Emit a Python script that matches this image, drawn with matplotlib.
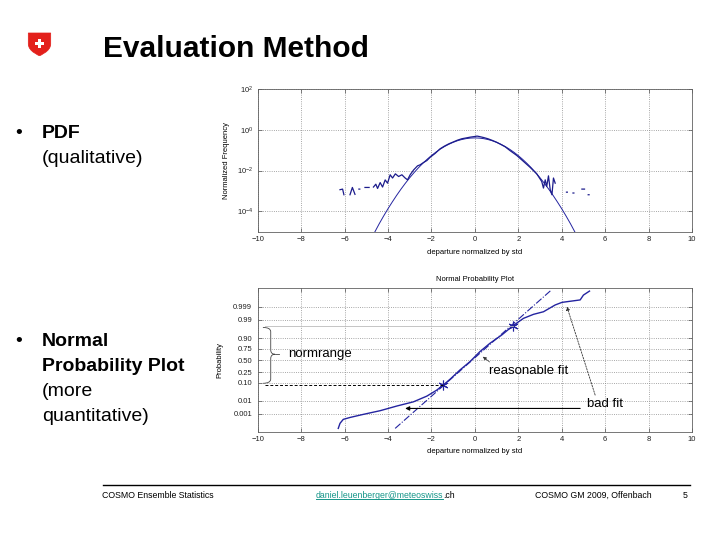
import numpy as np
import matplotlib
matplotlib.use('Agg')
import matplotlib.pyplot as plt
from matplotlib.path import Path
from matplotlib.patches import PathPatch
from matplotlib.lines import Line2D
from matplotlib.transforms import Affine2D
from matplotlib.ticker import NullLocator
from statistics import NormalDist

plt.rcParams['font.family'] = ['Liberation Sans', 'DejaVu Sans']
plt.rcParams['mathtext.fontset'] = 'custom'
plt.rcParams['mathtext.rm'] = 'Liberation Sans'
plt.rcParams['mathtext.it'] = 'Liberation Sans:italic'
plt.rcParams['mathtext.bf'] = 'Liberation Sans:bold'

nan = np.nan

# ---------------- data ----------------
x_ticks = [-10, -8, -6, -4, -2, 0, 2, 4, 6, 8, 10]

pdf_yticks = [1e-4, 1e-2, 1e0, 1e2]
pdf_yticklabels = [r'$10^{-4}$', r'$10^{-2}$', r'$10^{0}$', r'$10^{2}$']

# fitted Gaussian (PDF panel)
pdf_fit_x = [-4.8, -4.6, -4.4, -4.2, -4.0, -3.8, -3.6, -3.4, -3.2, -3.0, -2.8, -2.6,
             -2.4, -2.2, -2.0, -1.8, -1.6, -1.4, -1.2, -1.0, -0.8, -0.6, -0.4, -0.2,
             0.0, 0.2, 0.4, 0.6, 0.8, 1.0, 1.2, 1.4, 1.6, 1.8, 2.0, 2.2, 2.4, 2.6,
             2.8, 3.0, 3.2, 3.4, 3.6, 3.8, 4.0, 4.2, 4.4, 4.6, 4.8]
pdf_fit_y = [4.0e-6, 1.0e-5, 2.5e-5, 5.9e-5, 1.34e-4, 2.9e-4, 6.1e-4, 1.23e-3, 2.38e-3,
             4.43e-3, 7.9e-3, 1.36e-2, 2.24e-2, 3.55e-2, 5.40e-2, 7.90e-2, 0.111, 0.150,
             0.194, 0.242, 0.290, 0.333, 0.368, 0.391, 0.399, 0.391, 0.368, 0.333, 0.290,
             0.242, 0.194, 0.150, 0.111, 7.90e-2, 5.40e-2, 3.55e-2, 2.24e-2, 1.36e-2,
             7.9e-3, 4.43e-3, 2.38e-3, 1.23e-3, 6.1e-4, 2.9e-4, 1.34e-4, 5.9e-5, 2.5e-5,
             1.0e-5, 4.0e-6]

# empirical normalized frequency (gaps = empty bins)
emp_x = [-6.21, -6.09, -6.03, nan, -5.75, -5.64, -5.52, nan, -5.34, -5.30, nan,
         -5.06, -4.87, nan, -4.67, -4.56, -4.48, -4.36, -4.25, -4.13, -4.02, -3.90,
         -3.79, -3.66, -3.51, -3.36, -3.21, -3.10, -2.98, -2.82, -2.64, -2.52, -2.37,
         -2.21, -2.06, -1.83, -1.6, -1.4, -1.2, -1.0, -0.8, -0.6, -0.4, -0.2, 0.0, 0.1,
         0.2, 0.4, 0.6, 0.8, 1.0, 1.2, 1.4, 1.62, 1.93, 2.24, 2.54, 2.85, 3.08, 3.16,
         3.24, 3.31, 3.39, 3.47, 3.55, 3.62, 3.70, nan, 4.22, 4.26, nan, 4.52, 4.56,
         nan, 4.93, 5.05, nan, 5.22, 5.26]
emp_y = [1.15e-3, 1.23e-3, 6.5e-4, nan, 6.5e-4, 1.48e-3, 6.8e-4, nan, 1.23e-3, 1.23e-3, nan,
         1.48e-3, 1.48e-3, nan, 1.55e-3, 2.14e-3, 1.32e-3, 2.57e-3, 1.55e-3, 3.47e-3, 2.40e-3,
         6.2e-3, 4.3e-3, 6.9e-3, 5.1e-3, 6.2e-3, 4.3e-3, 3.5e-3, 6.2e-3, 1.07e-2, 1.70e-2,
         1.91e-2, 2.45e-2, 3.09e-2, 4.47e-2, 6.9e-2, 0.117, 0.158, 0.204, 0.251, 0.309, 0.363,
         0.398, 0.437, 0.468, 0.49, 0.468, 0.417, 0.363, 0.302, 0.245, 0.19, 0.145, 0.095,
         0.055, 0.028, 0.0145, 0.0069, 0.0029, 0.00138, 0.0035, 0.00166, 0.0055, 0.00115,
         0.00065, 0.0043, 0.0024, nan, 8.7e-4, 8.7e-4, nan, 7.9e-4, 7.9e-4, nan, 1.23e-3,
         1.23e-3, nan, 6.5e-4, 6.5e-4]

# normal probability plot
npp_yticks = [0.001, 0.01, 0.10, 0.25, 0.50, 0.75, 0.90, 0.99, 0.999]
npp_yticklabels = ['0.001', '0.01', '0.10', '0.25', '0.50', '0.75', '0.90', '0.99', '0.999']
npp_x = [-6.29, -6.21, -6.06, -5.75, -5.13, -4.36, -3.59, -2.83, -2.21, -1.75, -1.45,
         -1.10, -0.69, -0.23, 0.23, 0.69, 1.24, 1.75, 2.24, 2.70, 3.16, 3.70, 4.01, 4.85,
         5.00, 5.28]
npp_p = [4.43e-5, 1.42e-4, 3.37e-4, 5.01e-4, 9.36e-4, 1.87e-3, 4.27e-3, 8.42e-3, 0.0197,
         0.0436, 0.0778, 0.149, 0.288, 0.468, 0.691, 0.836, 0.928, 0.9767, 0.99224, 0.99598,
         0.99744, 0.99929, 0.99958, 0.99975, 0.999915, 0.999967]
npp_mark_x = [-1.45, 1.75]
npp_mark_p = [0.0778, 0.9767]
npp_fit_x = [-3.67, 3.52]
npp_fit_p = [4.43e-5, 0.9999744]

# ---------------- figure ----------------
W, H = 720, 540
fig = plt.figure(figsize=(7.2, 5.4), dpi=100)
fig.patch.set_facecolor('white')
PX = Affine2D().scale(1 / W, -1 / H).translate(0, 1) + fig.transFigure


def fig_axes(l, t, r, b):
    return fig.add_axes([l / W, 1 - b / H, (r - l) / W, (b - t) / H])


def style(ax):
    ax.set_xlim(-10, 10)
    ax.set_xticks(x_ticks)
    ax.grid(True, ls=':', lw=0.6, color='#8a8a8a')
    ax.tick_params(direction='in', length=3, width=0.5, top=True, right=True,
                   labelsize=5.5, pad=3, color='#505050', labelcolor='#202020')
    ax.tick_params(which='minor', length=0)
    for s in ax.spines.values():
        s.set_color('#606060')
        s.set_linewidth(0.6)


BLUE = '#2424a0'

# ---- PDF panel ----
ax1 = fig_axes(257.7, 89, 692, 231.7)
ax1.set_yscale('log')
ax1.set_ylim(1e-5, 1e2)
style(ax1)
ax1.set_yticks(pdf_yticks)
ax1.set_yticklabels(pdf_yticklabels)
ax1.yaxis.set_minor_locator(NullLocator())
ax1.plot(pdf_fit_x, pdf_fit_y, color=BLUE, lw=0.7)
ax1.plot(emp_x, emp_y, color='#1c1c8c', lw=0.9)
ax1.set_xlabel('departure normalized by std', fontsize=5.5, va='center')
ax1.xaxis.set_label_coords(0.5, -0.149)
ax1.set_ylabel('Normalized Frequency', fontsize=5.5, va='center')
ax1.yaxis.set_label_coords(-0.0707, 0.5)

# ---- Normal probability panel ----
_nd = NormalDist()


def probit(p):
    p = np.clip(np.asarray(p, dtype=float), 1e-12, 1 - 1e-12)
    return np.vectorize(_nd.inv_cdf, otypes=[float])(p)


def cdf(z):
    z = np.asarray(z, dtype=float)
    return np.vectorize(_nd.cdf, otypes=[float])(z)


ax2 = fig_axes(257.7, 288.3, 692, 431.7)
ax2.set_yscale('function', functions=(probit, cdf))
ax2.set_ylim(1.98e-5, 0.9999834)
style(ax2)
ax2.set_yticks(npp_yticks)
ax2.set_yticklabels(npp_yticklabels)
ax2.yaxis.set_minor_locator(NullLocator())
ax2.tick_params(axis='y', pad=4)

ax2.plot(npp_fit_x, npp_fit_p, color=BLUE, lw=0.8, ls='-.')
ax2.plot(npp_x, npp_p, color=BLUE, lw=1.0)
ax2.plot(npp_mark_x, npp_mark_p, ls='none', marker=(6, 2, 0), ms=7, mew=0.8, color=BLUE)

ax2.set_title('Normal Probability Plot', fontsize=5.5, pad=5)
ax2.set_xlabel('departure normalized by std', fontsize=5.5, va='center')
ax2.xaxis.set_label_coords(0.5, -0.135)
ax2.set_ylabel('Probability', fontsize=5.5, va='center')
ax2.yaxis.set_label_coords(-0.0868, 0.5)

# annotations
ax2.plot([-9.66, npp_mark_x[0]], [npp_mark_p[0], npp_mark_p[0]], color='black', lw=0.7,
         ls=(0, (3, 2)))
ax2.plot([-9.66, npp_mark_x[1]], [npp_mark_p[1], npp_mark_p[1]], color='#bbbbbb', lw=0.6)

bt, bb, bm = 0.727, 0.3375, 0.54
brace = Path([(0.012, bt), (0.030, bt), (0.030, bt - 0.03),
              (0.030, bm + 0.03), (0.030, bm), (0.040, bm),
              (0.030, bm), (0.030, bm - 0.03),
              (0.030, bb + 0.03), (0.030, bb), (0.012, bb)],
             [Path.MOVETO, Path.CURVE3, Path.CURVE3,
              Path.LINETO, Path.CURVE3, Path.CURVE3,
              Path.CURVE3, Path.CURVE3,
              Path.LINETO, Path.CURVE3, Path.CURVE3])
ax2.add_patch(PathPatch(brace, transform=ax2.transAxes, fill=False, lw=0.6,
                        edgecolor='#444444', clip_on=False))
ax2.plot([0.040, 0.048], [bm, bm], transform=ax2.transAxes, color='#444444', lw=0.6)
ax2.text(0.0705, bm, 'normrange', transform=ax2.transAxes, fontsize=9.5,
         ha='left', va='center')

ax2.annotate('', xy=(0.37, 0.583), xytext=(0.68, 0.462),
             arrowprops=dict(arrowstyle='-|>', lw=0.5, color='#333333', mutation_scale=5,
                             shrinkA=0, shrinkB=0))
ax2.text(0.63, 0.268, 'reasonable fit', fontsize=9.5, ha='left', va='center')

ax2.annotate('', xy=(-3.21, 0.0028), xytext=(4.85, 0.0028),
             arrowprops=dict(arrowstyle='-|>', lw=0.8, color='black', mutation_scale=6,
                             shrinkA=0, shrinkB=0))
ax2.annotate('', xy=(4.24, 0.999), xytext=(5.54, 0.0228),
             arrowprops=dict(arrowstyle='-|>', lw=0.6, ls=(0, (2, 1.5)), color='#333333',
                             mutation_scale=5, shrinkA=0, shrinkB=0))
ax2.text(5.16, 0.00555, 'bad fit', fontsize=9.5, ha='left', va='center')

# ---------------- slide decorations ----------------
shield = Path([(28.3, 33), (50.7, 33), (50.7, 44),
               (50.7, 51.5), (39.5, 55.7), (39.5, 55.7),
               (39.5, 55.7), (28.3, 51.5), (28.3, 44), (28.3, 33)],
              [Path.MOVETO, Path.LINETO, Path.LINETO,
               Path.CURVE4, Path.CURVE4, Path.CURVE4,
               Path.CURVE4, Path.CURVE4, Path.CURVE4, Path.CLOSEPOLY])
fig.add_artist(PathPatch(shield, transform=PX, facecolor='#e3201b', edgecolor='#e3201b', lw=0.5))
cross = Path([(37.8, 38.6), (41.2, 38.6), (41.2, 41.6), (44.4, 41.6), (44.4, 45.0),
              (41.2, 45.0), (41.2, 48.2), (37.8, 48.2), (37.8, 45.0), (34.6, 45.0),
              (34.6, 41.6), (37.8, 41.6), (37.8, 38.6)])
fig.add_artist(PathPatch(cross, transform=PX, facecolor='white', edgecolor='none'))

fig.text(103, 56.7, 'Evaluation Method', transform=PX, fontsize=21.5, fontweight='bold',
         ha='left', va='baseline')

fig.text(15, 138, '\u2022', transform=PX, fontsize=14, ha='left', va='baseline')
fig.text(42, 138, 'PDF', transform=PX, fontsize=14, fontweight='bold', ha='left', va='baseline')
fig.text(42, 163, '(qualitative)', transform=PX, fontsize=14, ha='left', va='baseline')

fig.text(15, 346, '\u2022', transform=PX, fontsize=14, ha='left', va='baseline')
fig.text(42, 346, 'Normal', transform=PX, fontsize=14, fontweight='bold', ha='left', va='baseline')
fig.text(42, 371, 'Probability Plot', transform=PX, fontsize=14, fontweight='bold',
         ha='left', va='baseline')
fig.text(42, 396, '(more', transform=PX, fontsize=14, ha='left', va='baseline')
fig.text(42, 421, 'quantitative)', transform=PX, fontsize=14, ha='left', va='baseline')

# footer
fig.add_artist(Line2D([103, 690], [485, 485], transform=PX, color='black', lw=1.0))
fig.text(101.7, 497.7, 'COSMO Ensemble Statistics', transform=PX, fontsize=6.3,
         ha='left', va='baseline')
t_mail = fig.text(315.7, 497.7, 'daniel.leuenberger@meteoswiss', transform=PX, fontsize=6.3,
                  color='#17968a', ha='left', va='baseline')
fig.text(535, 497.7, 'COSMO GM 2009, Offenbach', transform=PX, fontsize=6.3,
         ha='left', va='baseline')
fig.text(682.7, 497.7, '5', transform=PX, fontsize=6.3, ha='left', va='baseline')

fig.canvas.draw()
bbx = t_mail.get_window_extent(renderer=fig.canvas.get_renderer())
fig.text(bbx.x1, 497.7, '.ch', transform=PX, fontsize=6.3, ha='left', va='baseline')
fig.add_artist(Line2D([bbx.x0, bbx.x1], [499.2, 499.2], transform=PX, color='#17968a', lw=0.7))

fig.savefig('out.png', dpi=100, facecolor='white')
